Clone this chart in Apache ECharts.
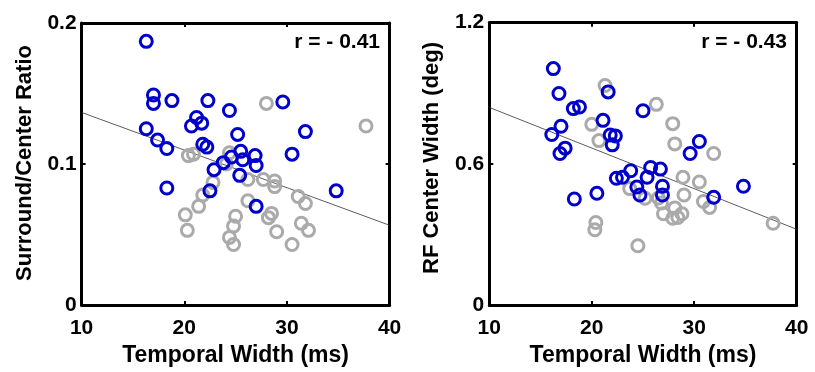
<!DOCTYPE html>
<html>
<head>
<meta charset="utf-8">
<script src="https://cdn.jsdelivr.net/npm/echarts@6/dist/echarts.min.js"></script>
<style>html,body{margin:0;padding:0;background:#fff;}#c{width:815px;height:372px;}</style>
</head>
<body>
<div id="c"></div>
<script>
// ---- data ----
var xTicks = [10, 20, 30, 40];
var leftYTicks = [0, 0.1, 0.2];
var rightYTicks = [0, 0.6, 1.2];
var leftTitleY = 'Surround/Center Ratio';
var rightTitleY = 'RF Center Width (deg)';
var titleX = 'Temporal Width (ms)';
var leftR = 'r = - 0.41';
var rightR = 'r = - 0.43';

var leftBlue = [[16.3,0.187],[17.0,0.149],[17.0,0.143],[18.8,0.145],[22.3,0.145],[24.4,0.138],[29.6,0.144],[21.2,0.133],[21.7,0.129],[20.7,0.127],[16.3,0.125],[17.4,0.117],[25.2,0.121],[31.8,0.123],[18.3,0.111],[21.8,0.114],[22.2,0.112],[30.5,0.107],[25.5,0.109],[26.9,0.106],[24.6,0.105],[25.7,0.103],[27.0,0.099],[23.8,0.101],[22.9,0.096],[25.4,0.092],[18.3,0.083],[22.5,0.081],[34.8,0.081],[27.0,0.070]];
var leftGrey = [[28.0,0.143],[37.7,0.127],[20.4,0.106],[20.9,0.107],[24.4,0.108],[24.1,0.100],[26.2,0.089],[27.7,0.089],[28.8,0.088],[28.8,0.084],[22.8,0.087],[21.8,0.078],[31.1,0.077],[31.8,0.072],[26.2,0.074],[21.4,0.070],[20.1,0.064],[28.5,0.065],[28.2,0.062],[25.0,0.063],[24.8,0.056],[20.3,0.053],[31.4,0.058],[32.1,0.053],[29.0,0.052],[24.4,0.048],[24.8,0.043],[30.5,0.043]];
var leftFit = [[10,0.1366],[40,0.0566]];

var rightBlue = [[16.25,1.005],[16.8,0.899],[21.6,0.906],[18.2,0.835],[18.8,0.842],[25.0,0.826],[21.1,0.785],[17.0,0.760],[16.1,0.725],[21.8,0.723],[22.3,0.719],[22.0,0.681],[30.5,0.695],[17.4,0.667],[16.9,0.644],[29.6,0.644],[25.75,0.585],[26.7,0.578],[23.8,0.571],[23.0,0.543],[22.4,0.539],[25.4,0.543],[24.4,0.502],[26.9,0.505],[34.8,0.505],[24.7,0.468],[26.9,0.468],[31.9,0.458],[20.5,0.475],[18.3,0.451]];
var rightGrey = [[21.3,0.933],[26.3,0.853],[27.9,0.771],[20.0,0.768],[28.1,0.685],[31.9,0.644],[20.7,0.699],[28.9,0.543],[30.5,0.523],[23.7,0.495],[25.2,0.454],[26.5,0.455],[29.0,0.468],[30.9,0.440],[31.5,0.415],[26.8,0.434],[28.1,0.413],[27.0,0.388],[27.9,0.369],[28.8,0.388],[28.4,0.372],[37.7,0.348],[20.4,0.351],[20.3,0.320],[24.5,0.252]];
var rightFit = [[10,0.840],[40,0.322]];

// ---- chart ----
var FONT = "'Liberation Sans', Arial, Helvetica, sans-serif";
var BLUE = '#0000cc', GREY = '#aaaaaa';

function xAxisDef(gi, pos, showLabel, nameText) {
  return {
    gridIndex: gi, type: 'value', position: pos,
    min: xTicks[0], max: xTicks[xTicks.length - 1], interval: xTicks[1] - xTicks[0],
    axisLine: {show: true, onZero: false, lineStyle: {color: '#000', width: 3}},
    axisTick: {show: true, inside: true, length: 4, lineStyle: {color: '#000', width: 2}},
    axisLabel: {show: showLabel, margin: 13, color: '#000', fontSize: 21, fontWeight: 'bold', fontFamily: FONT},
    splitLine: {show: false},
    name: nameText || '', nameLocation: 'middle', nameGap: 29,
    nameTextStyle: {color: '#000', fontSize: 23, fontWeight: 'bold', fontFamily: FONT}
  };
}
function yAxisDef(gi, pos, ticks, showLabel) {
  return {
    gridIndex: gi, type: 'value', position: pos,
    min: ticks[0], max: ticks[ticks.length - 1], interval: ticks[1] - ticks[0],
    axisLine: {show: true, onZero: false, lineStyle: {color: '#000', width: 3}},
    axisTick: {show: true, inside: true, length: 4, lineStyle: {color: '#000', width: 2}},
    axisLabel: {show: showLabel, margin: 5, color: '#000', fontSize: 21, fontWeight: 'bold', fontFamily: FONT},
    splitLine: {show: false}
  };
}
function scatter(data, color, xi, yi) {
  return {
    type: 'scatter', xAxisIndex: xi, yAxisIndex: yi, data: data,
    symbol: 'circle', symbolSize: 12,
    itemStyle: {color: 'rgba(0,0,0,0)', borderColor: color, borderWidth: 3, opacity: 1},
    emphasis: {disabled: true}, silent: true, animation: false
  };
}
function fit(data, xi, yi) {
  return {
    type: 'line', xAxisIndex: xi, yAxisIndex: yi, data: data, showSymbol: false,
    lineStyle: {color: '#333', width: 0.8}, silent: true, animation: false, z: 1
  };
}

var chart = echarts.init(document.getElementById('c'), null, {renderer: 'canvas'});
chart.setOption({
  backgroundColor: '#fff',
  animation: false,
  grid: [
    {left: 81.6, right: 815 - 389.6, top: 23, bottom: 372 - 313},
    {left: 489.3, right: 815 - 796.7, top: 22.7, bottom: 372 - 313.3}
  ],
  xAxis: [
    xAxisDef(0, 'bottom', true, titleX),
    xAxisDef(0, 'top', false),
    xAxisDef(1, 'bottom', true, titleX),
    xAxisDef(1, 'top', false)
  ],
  yAxis: [
    yAxisDef(0, 'left', leftYTicks, true),
    yAxisDef(0, 'right', leftYTicks, false),
    yAxisDef(1, 'left', rightYTicks, true),
    yAxisDef(1, 'right', rightYTicks, false)
  ],
  series: [
    fit(leftFit, 0, 0),
    scatter(leftGrey, GREY, 0, 0),
    scatter(leftBlue, BLUE, 0, 0),
    fit(rightFit, 2, 2),
    scatter(rightGrey, GREY, 2, 2),
    scatter(rightBlue, BLUE, 2, 2)
  ],
  graphic: [
    {type: 'text', x: 25, y: 163, rotation: Math.PI / 2,
     style: {text: leftTitleY, fill: '#000', font: 'bold 22px ' + FONT, align: 'center', verticalAlign: 'middle', textAlign: 'center', textVerticalAlign: 'middle'}},
    {type: 'text', x: 432, y: 158, rotation: Math.PI / 2,
     style: {text: rightTitleY, fill: '#000', font: 'bold 22px ' + FONT, align: 'center', verticalAlign: 'middle', textAlign: 'center', textVerticalAlign: 'middle'}},
    {type: 'text', x: 380, y: 42,
     style: {text: leftR, fill: '#000', font: 'bold 21px ' + FONT, align: 'right', verticalAlign: 'middle', textAlign: 'right', textVerticalAlign: 'middle'}},
    {type: 'text', x: 787, y: 42,
     style: {text: rightR, fill: '#000', font: 'bold 21px ' + FONT, align: 'right', verticalAlign: 'middle', textAlign: 'right', textVerticalAlign: 'middle'}}
  ]
});
</script>
</body>
</html>
